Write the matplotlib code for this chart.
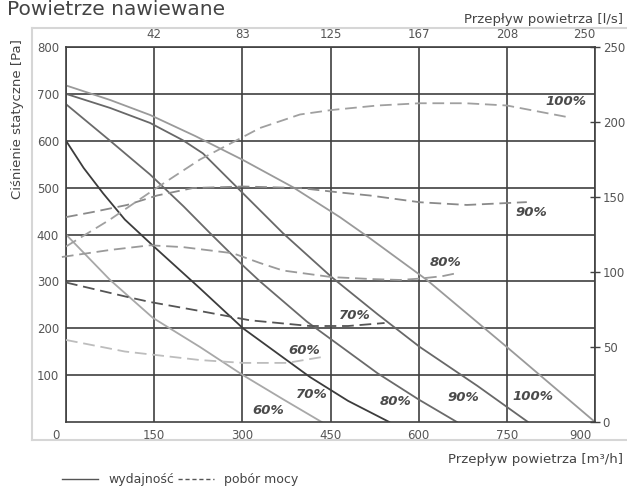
import matplotlib
matplotlib.use('Agg')
import matplotlib.pyplot as plt
import matplotlib.transforms as mtransforms
from matplotlib.lines import Line2D

# --- dane -----------------------------------------------------------------
# wydajnosc: przeplyw [m3/h] -> cisnienie statyczne [Pa]
p60_x = [0, 75, 148, 228, 301, 370, 435]
p60_y = [400, 303, 222, 160, 100, 48, 0]
p70_x = [0, 30, 63, 100, 148, 228, 301, 415, 480, 550]
p70_y = [600, 542, 488, 432, 376, 285, 200, 96, 45, 0]
p80_x = [0, 75, 143, 200, 245, 300, 330, 410, 530, 600, 665]
p80_y = [678, 600, 528, 460, 403, 335, 300, 214, 104, 48, 0]
p90_x = [0, 75, 143, 199, 233, 301, 369, 452, 530, 602, 700, 786]
p90_y = [700, 670, 638, 601, 573, 488, 403, 309, 230, 160, 77, 0]
p100_x = [0, 75, 143, 220, 301, 386, 466, 517, 614, 750, 900]
p100_y = [718, 687, 655, 610, 559, 501, 437, 392, 303, 160, 0]

# pobor mocy: przeplyw [m3/h] -> moc [W] (prawa os)
d60_x = [0, 100, 228, 301, 376, 437]
d60_y = [54.7, 47, 41.3, 39.4, 39.4, 43.4]
d70_x = [0, 104, 143, 228, 313, 415, 480, 542]
d70_y = [93, 83.4, 80, 74, 67.8, 64, 64, 66]
d80_x = [-7, 75, 143, 199, 284, 330, 369, 452, 520, 568, 602, 640, 667]
d80_y = [110, 114.7, 117.8, 116.6, 112.5, 106, 101, 96.6, 95.3, 94.7, 95.6, 97.2, 99.4]
d90_x = [0, 46, 104, 155, 216, 301, 398, 466, 517, 602, 682, 784]
d90_y = [136.6, 140, 144.7, 151, 156, 157, 156, 153, 151, 146.5, 144.7, 146.6]
d100_x = [0, 75, 150, 228, 301, 330, 398, 452, 530, 602, 680, 750, 857]
d100_y = [117, 135, 155, 175, 190, 196, 205, 208, 211, 212.5, 212.5, 211, 203]

x_ticks = [0, 150, 300, 450, 600, 750, 900]
y_ticks = [100, 200, 300, 400, 500, 600, 700, 800]
w_ticks = [0, 50, 100, 150, 200, 250]
top_labels = ['42', '83', '125', '167', '208', '250']

# etykiety krzywych (tekst, x, y w Pa)
labels_solid = [('60%', 344, 25), ('70%', 418, 58), ('80%', 561, 43),
                ('90%', 676, 53), ('100%', 794, 54)]
labels_dash = [('60%', 406, 153), ('70%', 491, 228), ('80%', 645, 341),
               ('90%', 792, 446), ('100%', 850, 684)]

#-----------------------------------------------------------------------------
W, H = 627, 488
fig = plt.figure(figsize=(W / 100, H / 100), dpi=100)
ax = fig.add_axes([66 / W, 1 - 422 / H, 529 / W, 375 / H])

grid_c = '#404040'
txt_c = '#555555'

ax.set_xlim(0, 900)
ax.set_ylim(0, 800)
ax.set_xticks(x_ticks)
ax.set_yticks(y_ticks)
ax.grid(True, color=grid_c, linewidth=1.2)
ax.set_axisbelow(True)
for s in ax.spines.values():
    s.set_color(grid_c)
    s.set_linewidth(1.2)
ax.tick_params(axis='both', length=0, labelsize=8.5, labelcolor=txt_c)
ax.tick_params(axis='y', pad=5)
ax.tick_params(axis='x', pad=5)

# wydajnosc
ax.plot(p60_x, p60_y, color='#a8a8a8', lw=1.3)
ax.plot(p70_x, p70_y, color='#3c3c3c', lw=1.3)
ax.plot(p80_x, p80_y, color='#6a6a6a', lw=1.3)
ax.plot(p90_x, p90_y, color='#686868', lw=1.3)
ax.plot(p100_x, p100_y, color='#9a9a9a', lw=1.3)

# prawa os - moc
ax2 = ax.twinx()
ax2.set_ylim(0, 250)
ax2.set_yticks(w_ticks)
ax2.tick_params(axis='y', direction='inout', length=7, width=1, color=grid_c,
                labelsize=8.5, labelcolor=txt_c, pad=2)
for s in ax2.spines.values():
    s.set_visible(False)
dash = (0, (6.5, 3.2))
ax2.plot(d60_x, d60_y, color='#bdbdbd', lw=1.3, ls=dash)
ax2.plot(d70_x, d70_y, color='#555555', lw=1.3, ls=dash)
ax2.plot(d80_x, d80_y, color='#9a9a9a', lw=1.3, ls=dash, clip_on=False)
ax2.plot(d90_x, d90_y, color='#8a8a8a', lw=1.3, ls=dash)
ax2.plot(d100_x, d100_y, color='#a0a0a0', lw=1.3, ls=dash)

# gorna os l/s
ax3 = ax.twiny()
ax3.set_xlim(0, 900)
ax3.set_xticks(x_ticks[1:])
ax3.set_xticklabels(top_labels)
ax3.tick_params(axis='x', length=0, labelsize=8.5, labelcolor=txt_c, pad=4)
for s in ax3.spines.values():
    s.set_visible(False)
ax3.get_xticklabels()[-1].set_ha('right')

# etykiety dolne: 0 w rogu, 900 do prawej
xl = ax.get_xticklabels()
xl[-1].set_ha('right')
xl[-1].set_transform(xl[-1].get_transform() +
                     mtransforms.ScaledTranslation(-4 / 100, 0, fig.dpi_scale_trans))
xl[0].set_transform(xl[0].get_transform() +
                    mtransforms.ScaledTranslation(-10 / 100, 0, fig.dpi_scale_trans))

for t, x, y in labels_solid + labels_dash:
    ax.text(x, y, t, ha='center', va='center', fontsize=9.5, fontweight='bold',
            fontstyle='italic', color='#4a4a4a', zorder=5)

# teksty
fig.text(7 / W, 1 - 15 / H, 'Powietrze nawiewane', fontsize=14.5, color='#444444',
         ha='left', va='baseline')
fig.text(623 / W, 1 - 23 / H, 'Przepływ powietrza [l/s]', fontsize=9.5,
         color='#444444', ha='right', va='baseline')
fig.text(623 / W, 1 - 463 / H, 'Przepływ powietrza [m³/h]', fontsize=9.5,
         color='#444444', ha='right', va='baseline')
fig.text(18 / W, 1 - 119 / H, 'Ciśnienie statyczne [Pa]', fontsize=9.5,
         color='#444444', ha='center', va='center', rotation=90)

# ramka zewnetrzna
fc = '#d6d6d6'
fig.add_artist(Line2D([32 / W, 1], [1 - 28 / H] * 2, transform=fig.transFigure, color=fc, lw=1.5))
fig.add_artist(Line2D([32 / W, 32 / W], [1 - 28 / H, 1 - 440 / H], transform=fig.transFigure, color=fc, lw=1.5))
fig.add_artist(Line2D([32 / W, 1], [1 - 440 / H] * 2, transform=fig.transFigure, color=fc, lw=1.5))

# legenda
h1 = Line2D([], [], color='#555555', lw=1)
h2 = Line2D([], [], color='#555555', lw=1, ls=(0, (3, 2)))
fig.legend([h1, h2], ['wydajność', 'pobór mocy'], loc='center left',
           bbox_to_anchor=(62 / W, 1 - 480 / H), ncol=2, frameon=False,
           fontsize=9, handlelength=2.9, handletextpad=0.8, columnspacing=0.3,
           borderpad=0, borderaxespad=0, labelcolor='#444444')

plt.savefig('out.png', dpi=100)
